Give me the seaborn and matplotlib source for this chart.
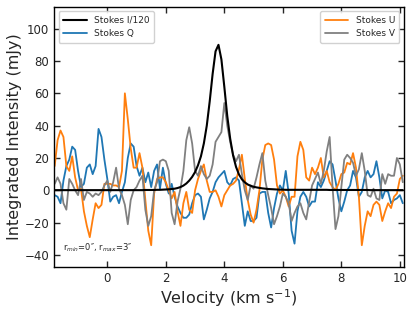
import numpy as np
import pandas as pd
import matplotlib
matplotlib.use("Agg")
import matplotlib.pyplot as plt
import seaborn as sns

# velocity channels (km/s)
velocity = np.round(np.arange(-1.8, 10.15, 0.1), 2)

stokes_i120 = (
    [0.1] * 29
    + [0.1, 0.1, 0.2, 0.2, 0.2, 0.2, 0.3, 0.3, 0.4]
    + [0.5, 0.6, 0.8, 1.0, 1.4, 2.0, 2.9, 4.2, 6.0, 8.3,
       11.3, 15.5, 21, 29, 40, 55, 72, 86, 90, 81,
       64, 46, 32, 21.5, 14.5, 9.8, 6.8, 4.9, 3.6, 2.8,
       2.2, 1.8, 1.5, 1.2, 1.0, 0.8, 0.7, 0.6, 0.5, 0.4, 0.4]
    + [0.3] * 15 + [0.2] * 14 + [0.1] * 12
)

stokes_q = [
    -3, -4, -8, 6, 15, 19, 27, 25, 12, 2,
    4, 14, 16, 10, 15, 38, 33, 19, 7, -7,
    -4, -3, -8, -1, 5, 20, 29, 27, 15, 9,
    14, 5, 11, 2, 12, 16, 1, 14, 4, -2,
    4, -4, -10, -14, -17, -17, -15, -8, -3, -2,
    -4, -18, -12, -5, -1, 5, 8, 10, 12, 5,
    3, 7, 8, 6, -8, -22, -13, -19, -19, -17,
    -2, -1, -1, -14, -23, -11, -2, 3, 0, 12,
    -2, -25, -33, -13, -4, -1, -4, -10, -7, -7,
    5, 2, 6, 12, 18, 16, 6, -5, -13, -7,
    0, 3, 12, 8, -4, -1, 8, 12, 8, 10,
    18, 8, -5, 0, -1, -8, -6, -5, -3, -8,
]

stokes_u = [
    15, 31, 37, 33, 15, 12, 21, 8, 0, 1,
    -13, -22, -29, -18, -8, -11, -9, 4, 4, 4,
    3, 3, 2, 12, 60, 44, 26, 14, 14, 23,
    14, -6, -25, -34, -2, 7, 8, 8, 5, 0,
    -5, -1, -13, -22, -8, -1, -12, -14, 0, 7,
    12, 16, 6, -1, -1, 0, -4, -10, -3, 0,
    3, 4, 6, 13, 22, 7, -6, -15, -20, -12,
    0, 19, 28, 29, 28, 19, 3, -2, 0, -4,
    -10, -4, -4, 21, 30, 25, 8, 6, 14, 10,
    14, 20, 8, 12, 5, 2, 0, 4, 10, 11,
    17, 16, 23, 14, -4, -34, -22, -13, -16, -9,
    -7, -9, -19, -13, -8, -11, -4, -2, 7, 9,
]

stokes_v = [
    4, 8, 4, -8, -12, 7, 4, 0, -3, 7,
    -6, -1, -2, -4, -2, -3, -1, 3, 6, -1,
    5, 14, 1, -3, -9, -21, -6, 0, 2, 6,
    9, -12, -22, -16, 0, 5, 18, 19, 18, 12,
    -14, -21, -7, 1, 12, 31, 39, 29, 12, 9,
    15, 10, 7, 9, 16, 30, 33, 36, 54, 40,
    30, 22, 18, 22, 10, 0, -6, 3, 1, 8,
    16, 23, 6, -3, -11, -21, -16, -10, -2, -4,
    -8, -19, -14, -10, -8, -14, -18, -7, 3, 7,
    11, 4, 12, 24, 33, 2, -24, -16, 2, 19,
    22, 20, 17, 9, 13, 23, 12, -3, -4, 1,
    -5, -6, 10, 4, 10, 9, 9, 20, 16, 5,
]

df = pd.DataFrame({
    "v": velocity,
    "I": stokes_i120,
    "Q": stokes_q,
    "U": stokes_u,
    "V": stokes_v,
})

sns.set_style("ticks")
plt.rcParams["font.family"] = ["DejaVu Sans"]

fig = plt.figure(figsize=(4.16, 3.12), dpi=100)
ax = fig.add_axes([0.13, 0.144, 0.841, 0.834])

sns.lineplot(data=df, x="v", y="I", ax=ax, color="black", lw=1.5, label="Stokes I/120")
sns.lineplot(data=df, x="v", y="Q", ax=ax, color="#1f77b4", lw=1.3, label="Stokes Q")
sns.lineplot(data=df, x="v", y="U", ax=ax, color="#ff7f0e", lw=1.3, label="Stokes U")
sns.lineplot(data=df, x="v", y="V", ax=ax, color="gray", lw=1.3, label="Stokes V")

# bring black line to front
lines = ax.get_lines()
lines[0].set_zorder(5)

ax.set_xlim(-1.82, 10.14)
ax.set_ylim(-47.5, 113.5)
ax.set_xticks([0, 2, 4, 6, 8, 10])
ax.set_yticks([-40, -20, 0, 20, 40, 60, 80, 100])
ax.tick_params(direction="in", top=True, right=True, labelsize=8.5, length=4, width=1)
for s in ax.spines.values():
    s.set_linewidth(1.0)
    s.set_color("black")

ax.set_xlabel("Velocity (km s$^{-1}$)", fontsize=11.5, labelpad=2)
ax.set_ylabel("Integrated Intensity (mJy)", fontsize=11.5, labelpad=2)

leg1 = ax.legend(handles=[lines[0], lines[1]], loc="upper left", fontsize=6.5,
                 handlelength=2.6, borderpad=0.5, framealpha=0.9)
ax.add_artist(leg1)
ax.legend(handles=[lines[2], lines[3]], loc="upper right", fontsize=6.5,
          handlelength=2.6, borderpad=0.5, framealpha=0.9)

ax.text(0.025, 0.075, "r$_{min}$=0″, r$_{max}$=3″", transform=ax.transAxes,
        fontsize=6, ha="left", va="center")

fig.savefig("out.png", dpi=100)
